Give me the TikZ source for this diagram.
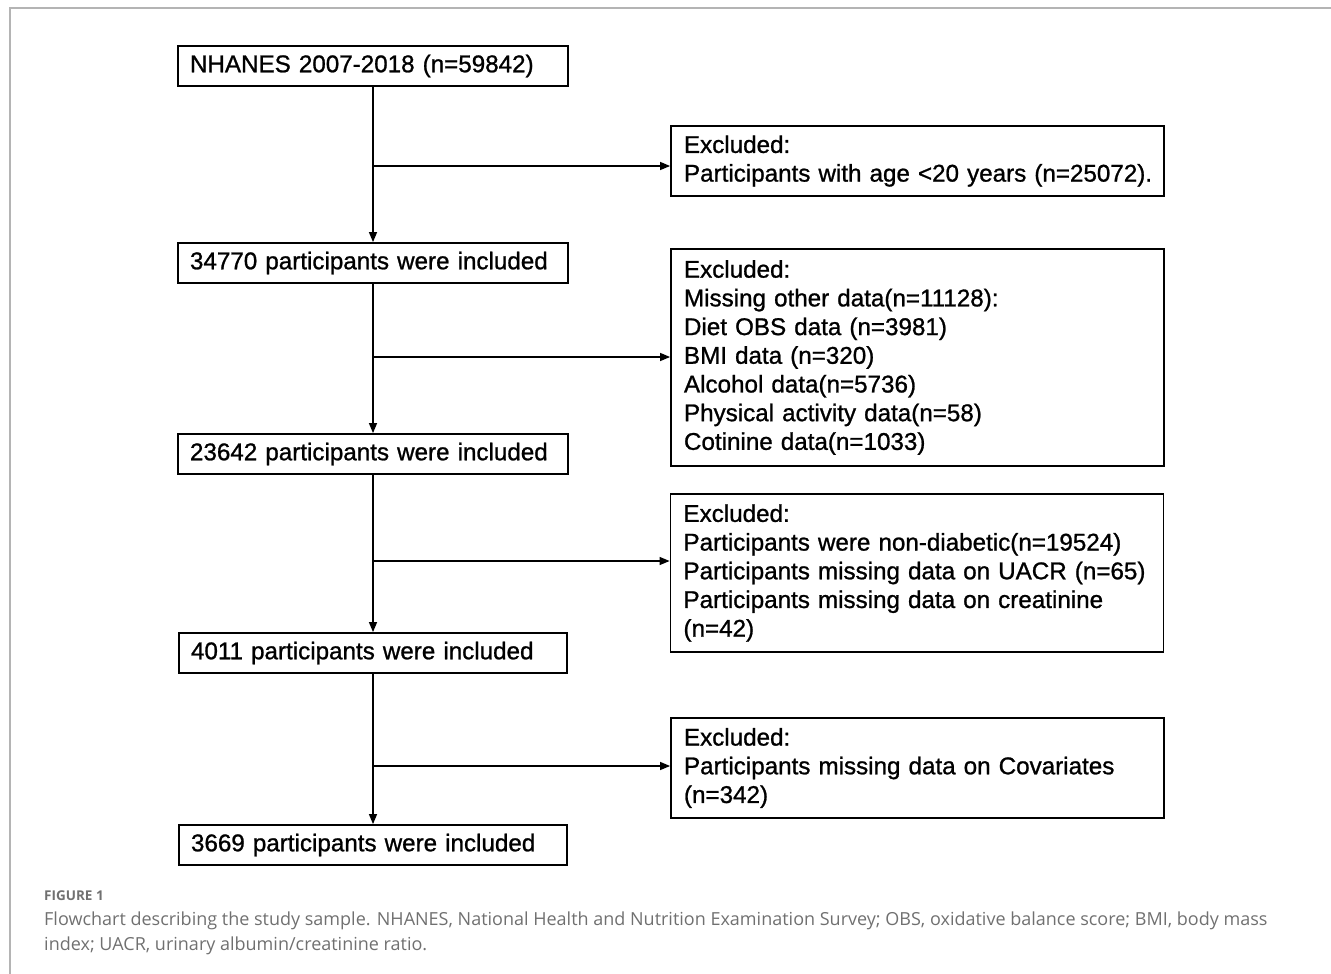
\documentclass[tikz,border=0pt]{standalone}
\usepackage{fontspec}
\setmainfont{Liberation Sans}
\newfontfamily\boxfont[FakeBold=1.0]{Liberation Sans}
\newfontfamily\capfont{Open Sans}
\usepackage{tikz}
\usetikzlibrary{arrows.meta, positioning}
\definecolor{capgray}{HTML}{707070}
\definecolor{framegray}{HTML}{B4B4B4}

\begin{document}
\begin{tikzpicture}[x=1pt, y=-1pt,
  box/.style={rectangle, draw=black, line width=1.8pt, inner xsep=12pt, inner ysep=0pt,
              text width=366pt, minimum height=40pt, align=left,
              font=\boxfont\fontsize{24.2}{28.7}\selectfont},
  excl/.style={box, inner xsep=13pt, text width=467pt},
  arr/.style={line width=1.3pt, -{Triangle[length=10pt,width=8pt]}},
  captxt/.style={anchor=base west, inner sep=0pt, text=capgray}
]
\useasboundingbox (0,0) rectangle (1331,974);

% frame
\draw[framegray, line width=2pt] (9.5,974) -- (9.5,8.5) -- (1331,8.5);

% Included boxes
\node[box] (nhanes) at (373,66) {NHANES 2007-2018 (n=59842)};
\node[box] (inc1) at (373,263) {34770 participants were included};
\node[box] (inc2) at (373,454) {23642 participants were included};
\node[box, text width=364pt] (inc3) at (373,653) {4011 participants were included};
\node[box, text width=364pt] (inc4) at (373,845) {3669 participants were included};

% Excluded boxes
\node[excl, minimum height=70pt] (ex1) at (917.5,161) {
  Excluded:\\
  \mbox{Participants with age <20 years (n=25072).}
};
\node[excl, minimum height=217pt] (ex2) at (917.5,357.5) {
  Excluded:\\
  Missing other data(n=11128):\\
  Diet OBS data (n=3981)\\
  BMI data (n=320)\\
  Alcohol data(n=5736)\\
  Physical activity data(n=58)\\
  Cotinine data(n=1033)
};
\node[excl, minimum height=158pt] (ex3) at (917,573) {
  Excluded:\\
  Participants were non-diabetic(n=19524)\\
  Participants missing data on UACR (n=65)\\
  Participants missing data on creatinine\\
  (n=42)
};
\node[excl, minimum height=100pt] (ex4) at (917.5,768) {
  Excluded:\\
  Participants missing data on Covariates\\
  (n=342)
};

% Branch points
\coordinate (s1) at (373,166);
\coordinate (s2) at (373,357);
\coordinate (s3) at (373,561);
\coordinate (s4) at (373,766);

% Arrows
\draw[arr] (nhanes) -- (inc1);
\draw[arr] (inc1) -- (inc2);
\draw[arr] (inc2) -- (inc3);
\draw[arr] (inc3) -- (inc4);
\draw[arr] (s1) -- (s1 -| ex1.west);
\draw[arr] (s2) -- (s2 -| ex2.west);
\draw[arr] (s3) -- (s3 -| ex3.west);
\draw[arr] (s4) -- (s4 -| ex4.west);

% Caption
\node[captxt, font=\capfont\bfseries\fontsize{13.5}{18}\selectfont] (fig) at (44,900) {FIGURE 1};
\node[captxt, font=\capfont\fontsize{18}{24}\selectfont] (cap1) at (44,925)
  {Flowchart describing the study sample. NHANES, National Health and Nutrition Examination Survey; OBS, oxidative balance score; BMI, body mass};
\node[captxt, font=\capfont\fontsize{18}{24}\selectfont] (cap2) at (44,950)
  {index; UACR, urinary albumin/creatinine ratio.};

\end{tikzpicture}
\end{document}
